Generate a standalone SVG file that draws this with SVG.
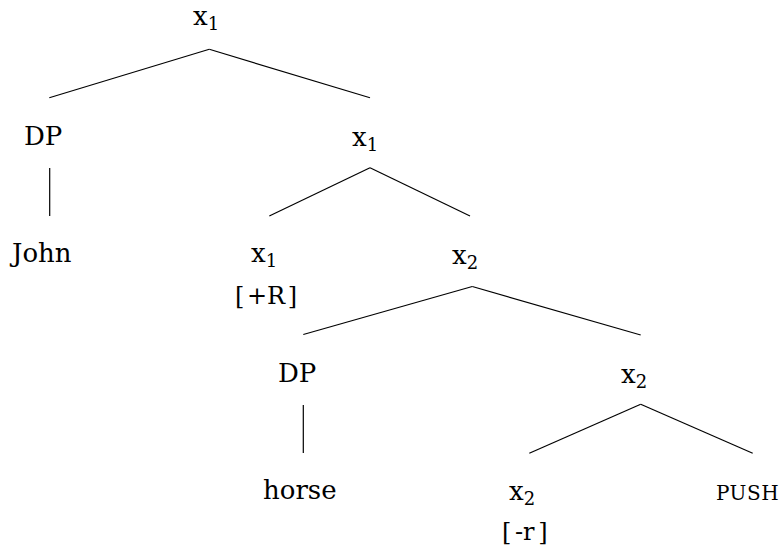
<svg xmlns="http://www.w3.org/2000/svg" width="783" height="547" viewBox="0 0 783 547">
<style>
.t{font-family:'DejaVu Serif',serif;font-size:26px;fill:#000}
.sub{font-size:18px}
.br{font-size:24px}
.sc{font-size:20px;letter-spacing:0.5px}
.edges line{stroke:#000;stroke-width:1.2}
</style>
<rect width="783" height="547" fill="#fff"/>
<g class="edges" id="connectors">
<line x1="209.3" y1="49.3" x2="49.3" y2="97.7"/>
<line x1="209.3" y1="49.3" x2="370" y2="97.7"/>
<line x1="49.7" y1="168" x2="49.7" y2="216"/>
<line x1="370" y1="167.7" x2="269.3" y2="216"/>
<line x1="370" y1="167.7" x2="470" y2="216"/>
<line x1="472.3" y1="286.5" x2="303.3" y2="334.5"/>
<line x1="472.3" y1="286.5" x2="640.7" y2="335"/>
<line x1="303.3" y1="405" x2="303.3" y2="453"/>
<line x1="640.7" y1="404.3" x2="529.3" y2="453.3"/>
<line x1="640.7" y1="404.3" x2="752.7" y2="453.3"/>
</g>
<g class="t">
<g id="n-root"><text x="193" y="25">x<tspan class="sub" dy="5">1</tspan></text></g>
<g id="n-dp1"><text x="24" y="145">DP</text></g>
<g id="n-john"><text x="12" y="262">John</text></g>
<g id="n-x1b"><text x="352" y="146">x<tspan class="sub" dy="5">1</tspan></text></g>
<g id="n-x1c"><text x="251" y="262">x<tspan class="sub" dy="5">1</tspan></text><text class="br" x="235" y="304" word-spacing="-5">[ +R ]</text></g>
<g id="n-x2a"><text x="452" y="264">x<tspan class="sub" dy="5">2</tspan></text></g>
<g id="n-dp2"><text x="278" y="382">DP</text></g>
<g id="n-horse"><text x="263" y="499">horse</text></g>
<g id="n-x2b"><text x="621" y="383">x<tspan class="sub" dy="5">2</tspan></text></g>
<g id="n-x2c"><text x="509" y="500">x<tspan class="sub" dy="5">2</tspan></text><text class="br" x="502" y="540" word-spacing="-4">[ -r ]</text></g>
<g id="n-push"><text class="sc" x="716" y="500">PUSH</text></g>
</g>
</svg>
